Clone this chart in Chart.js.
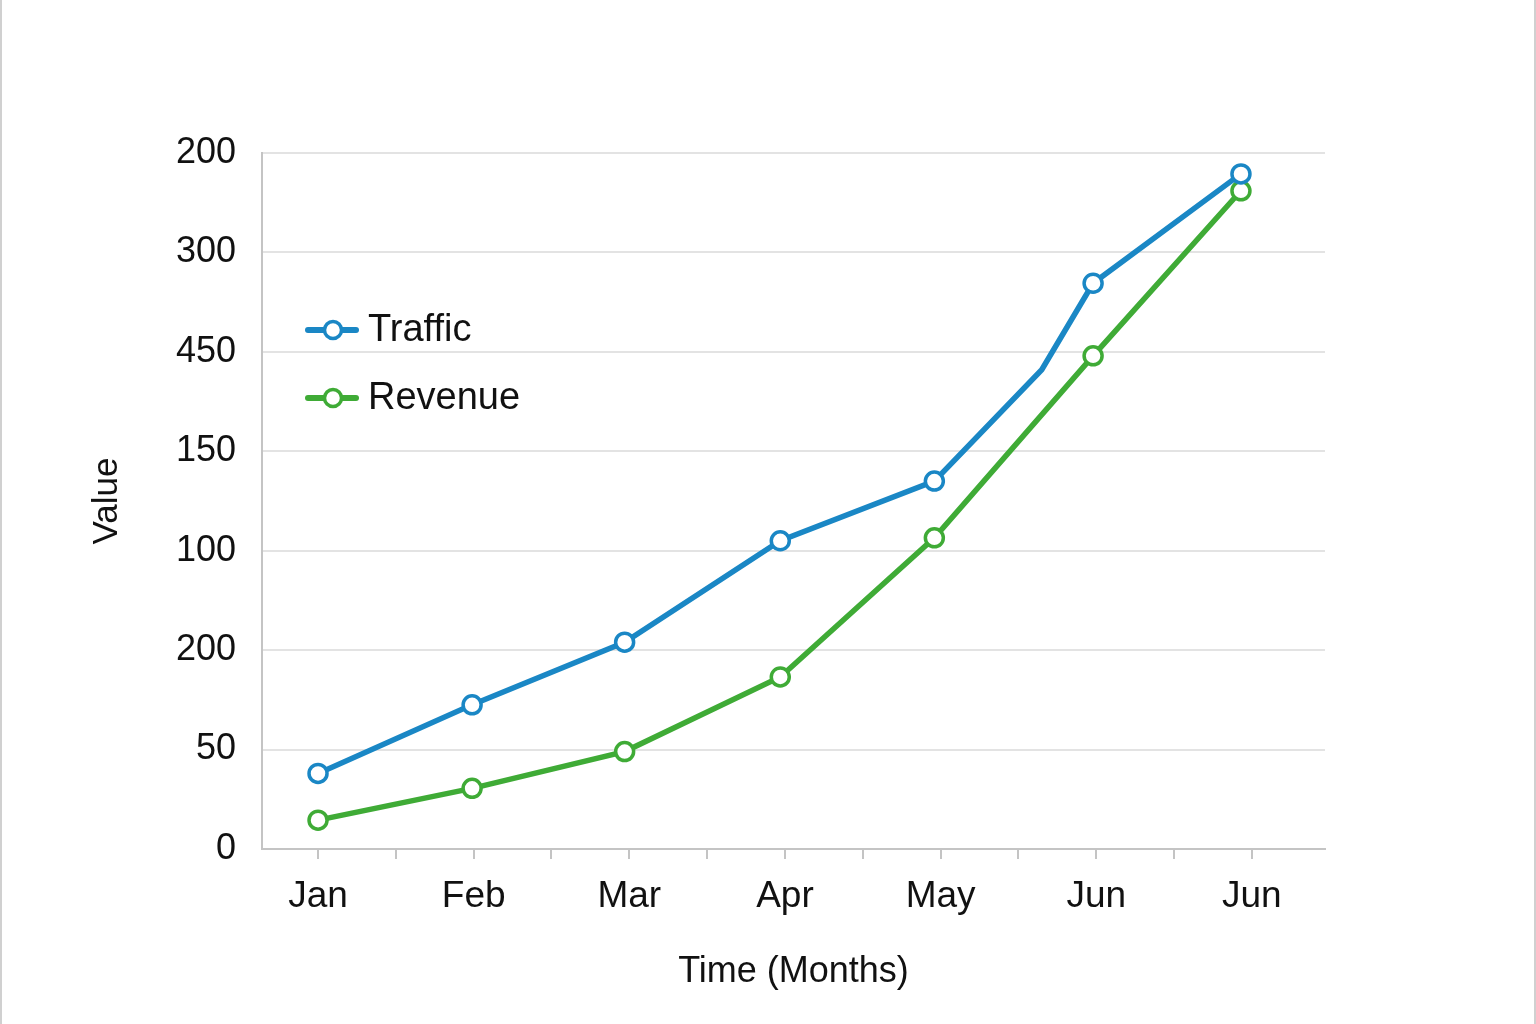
<!DOCTYPE html>
<html>
<head>
<meta charset="utf-8">
<script src="https://cdn.jsdelivr.net/npm/chart.js@4.4.0/dist/chart.umd.min.js"></script>
<style>
  html, body { margin: 0; padding: 0; background: #fff; }
  #wrap { position: relative; width: 1536px; height: 1024px; box-sizing: border-box;
          border-left: 2px solid #d0d0d0; border-right: 2px solid #d0d0d0; }
  canvas { display: block; }
</style>
</head>
<body>
<div id="wrap"><canvas id="c" width="1532" height="1024"></canvas></div>
<script>
// Category labels (x) and their positions on the month axis
const monthLabels = ['Jan', 'Feb', 'Mar', 'Apr', 'May', 'Jun', 'Jun'];
// Y tick labels as printed (bottom to top), evenly spaced
const yTickLabels = ['0', '50', '200', '100', '150', '450', '300', '200'];

// Traffic series (x = month position, y = position on the printed scale, in tick steps)
const trafficX = [0, 0.99, 1.97, 2.97, 3.96, 4.65, 4.98, 5.93];
const trafficY = [0.76, 1.45, 2.08, 3.10, 3.70, 4.82, 5.69, 6.79];
const trafficMarker = [true, true, true, true, true, false, true, true];

// Revenue series
const revenueX = [0, 0.99, 1.97, 2.97, 3.96, 4.98, 5.93];
const revenueY = [0.29, 0.61, 0.98, 1.73, 3.13, 4.96, 6.62];

const BLUE = '#1a87c5';
const GREEN = '#3fab36';
const FONT = "'Liberation Sans', Arial, Helvetica, sans-serif";

function pts(xs, ys) { return xs.map((x, i) => ({ x: x, y: ys[i] })); }

const legendPlugin = {
  id: 'insideLegend',
  afterDatasetsDraw(chart) {
    const ctx = chart.ctx;
    const area = chart.chartArea;
    const x0 = area.left + 46;
    const rows = [area.top + 177, area.top + 245];
    ctx.save();
    chart.data.datasets.forEach((ds, i) => {
      const y = rows[i];
      ctx.strokeStyle = ds.borderColor;
      ctx.lineWidth = 6;
      ctx.lineCap = 'round';
      ctx.beginPath();
      ctx.moveTo(x0, y);
      ctx.lineTo(x0 + 48, y);
      ctx.stroke();
      ctx.beginPath();
      ctx.arc(x0 + 25, y, 8.5, 0, Math.PI * 2);
      ctx.fillStyle = '#fff';
      ctx.fill();
      ctx.lineWidth = 3.5;
      ctx.stroke();
      ctx.fillStyle = '#111';
      ctx.font = '38px ' + FONT;
      ctx.textAlign = 'left';
      ctx.textBaseline = 'middle';
      ctx.fillText(ds.label, x0 + 60, y + 1);
    });
    ctx.restore();
  }
};

new Chart(document.getElementById('c'), {
  type: 'line',
  data: {
    datasets: [
      {
        label: 'Traffic',
        data: pts(trafficX, trafficY),
        borderColor: BLUE,
        backgroundColor: '#fff',
        borderWidth: 5.5,
        pointRadius: trafficMarker.map(m => m ? 9 : 0),
        pointBorderWidth: 3.5,
        pointBackgroundColor: '#fff',
        pointBorderColor: BLUE,
        tension: 0
      },
      {
        label: 'Revenue',
        data: pts(revenueX, revenueY),
        borderColor: GREEN,
        backgroundColor: '#fff',
        borderWidth: 5.5,
        pointRadius: 9,
        pointBorderWidth: 3.5,
        pointBackgroundColor: '#fff',
        pointBorderColor: GREEN,
        tension: 0
      }
    ]
  },
  options: {
    responsive: false,
    animation: false,
    devicePixelRatio: 1,
    layout: { padding: { left: 84, right: 209, top: 153, bottom: 30 } },
    plugins: { legend: { display: false }, tooltip: { enabled: false } },
    scales: {
      x: {
        type: 'linear',
        min: -0.36,
        max: 6.47,
        afterFit(s) { s.height = 145; },
        ticks: {
          stepSize: 0.5,
          includeBounds: false,
          autoSkip: false,
          maxRotation: 0,
          padding: 16,
          color: '#111',
          font: { family: FONT, size: 37 },
          callback(v) {
            return Number.isInteger(v) ? (monthLabels[v] || '') : '';
          }
        },
        grid: {
          drawOnChartArea: false,
          drawTicks: true,
          tickLength: 10,
          color: '#c4c4c4',
          lineWidth: 2
        },
        border: { display: true, color: '#c4c4c4', width: 2 },
        title: {
          display: true,
          text: 'Time (Months)',
          color: '#111',
          font: { family: FONT, size: 36 },
          padding: { top: 14, bottom: 0 }
        }
      },
      y: {
        type: 'linear',
        min: 0,
        max: 7,
        afterFit(s) { s.width = 176; },
        ticks: {
          stepSize: 1,
          padding: 26,
          color: '#111',
          font: { family: FONT, size: 36 },
          callback(v) { return yTickLabels[v]; }
        },
        grid: {
          drawTicks: false,
          color: '#e3e3e3',
          lineWidth: 2
        },
        border: { display: true, color: '#c4c4c4', width: 2 },
        title: {
          display: true,
          text: 'Value',
          color: '#111',
          font: { family: FONT, size: 35 },
          padding: { top: 0, bottom: 0 }
        }
      }
    }
  },
  plugins: [legendPlugin]
});
</script>
</body>
</html>
